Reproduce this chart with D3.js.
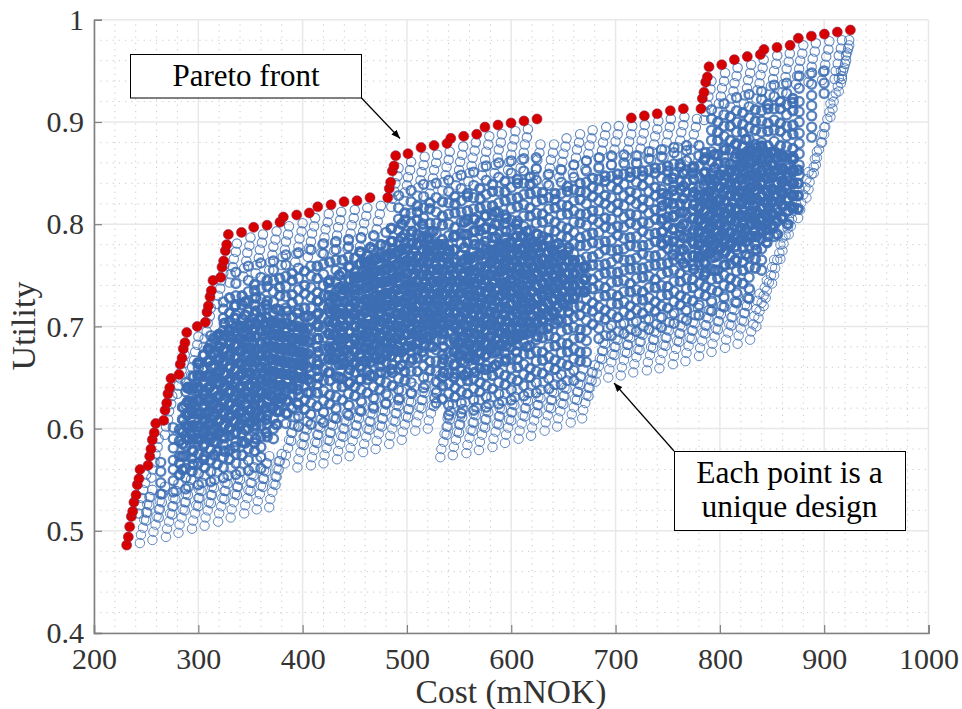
<!DOCTYPE html>
<html>
<head>
<meta charset="utf-8">
<script src="https://cdn.jsdelivr.net/npm/d3@7"></script>
<style>
  html, body { margin: 0; padding: 0; background: #fff; }
  svg { display: block; }
  text { font-family: "Liberation Serif", serif; }
</style>
</head>
<body>
<div id="chart"></div>
<script>
const xTicks = [200, 300, 400, 500, 600, 700, 800, 900, 1000];
const yTicks = [0.4, 0.5, 0.6, 0.7, 0.8, 0.9, 1];
const yTickLabels = ["0.4", "0.5", "0.6", "0.7", "0.8", "0.9", "1"];
const xMinor = [220, 240, 260, 280, 320, 340, 360, 380, 420, 440, 460, 480, 520, 540, 560, 580, 620, 640, 660, 680, 720, 740, 760, 780, 820, 840, 860, 880, 920, 940, 960, 980];
const yMinor = [0.42, 0.44, 0.46, 0.48, 0.52, 0.54, 0.56, 0.58, 0.62, 0.64, 0.66, 0.68, 0.72, 0.74, 0.76, 0.78, 0.82, 0.84, 0.86, 0.88, 0.92, 0.94, 0.96, 0.98];

// Pareto front, read point by point
const paretoCost = [231.3,232.9,234.2,235.8,237.1,238.3,240.3,241.5,243.1,244.1,251.8,253.4,254.6,255.9,257.8,259.2,266.8,268.1,269.7,270.9,272.6,273.8,281.5,282.7,284.4,285.6,287.2,288.9,299,306.7,308.3,309.6,311.2,312.5,314.1,321.5,322.7,324.3,325.9,327.2,328.8,341.4,353.1,365.9,378.3,381.5,394.3,406.4,414.5,427.2,439.7,452.1,464.6,481.6,483.1,484.4,486,487.6,489.2,501,513.5,526,538.4,542,554.4,566.9,574.8,587.3,599.8,612.2,624.7,715.1,727.6,739.9,752.5,765,781.9,783.2,784.8,786.4,788,789.6,801.8,813.9,826.3,838.8,842.3,854.8,867.3,875.2,887.7,900.2,912.6,925.1];
const paretoUtility = [.486,.494,.504,.514,.519,.528,.535,.545,.551,.56,.564,.573,.58,.589,.596,.605,.608,.618,.625,.634,.64,.649,.653,.663,.669,.678,.684,.694,.7,.704,.714,.72,.729,.735,.745,.748,.758,.764,.774,.78,.79,.792,.797,.799,.802,.807,.809,.811,.817,.819,.822,.823,.826,.826,.835,.841,.852,.857,.867,.869,.875,.877,.879,.884,.886,.888,.895,.897,.899,.901,.903,.904,.906,.908,.911,.913,.913,.923,.929,.939,.944,.954,.956,.961,.964,.966,.971,.973,.975,.982,.984,.986,.988,.99];

// Design cloud. Utility in thousandths.
// The real cloud has far more points than can be read, so the inner strands are thinned
// and drawn with heavier rings to give the same density.

// leaning strands along the lower edge
const lowerCost = [
[244,245,247,248,250,251,253],[256,257,259,260,262,263,265],[269,270,272,273,275,276,278],[281,282,284,285,287,288,290],[294,295,297,298,300,301,303],[306,307,309,310,312,313,315],[319,320,322,323,325,326,328],[331,332,334,335,337,338,340],[344,345,347,348,350,351,353],[356,357,359,360,362,363,365],[368,369,371,372,374,375,377],
[383,384,386,387,389,390,392],[395,396,398,399,401,402,404],[408,409,411,412,414,415,417],[420,421,423,424,426,427,429],[433,434,436,437,439,440,442],[445,446,448,449,451,452,454],[458,459,461,462,464,465,467],[470,471,473,474,476,477,479],[483,484,486,487,489,490,492],[495,496,498,499,501,502,504],[508,509,511,512,514,515,517],[520,521,523,524,526,527,529],
[532,533,535,536,538,539,541],[544,545,547,548,550,551,553],[557,558,560,561,563,564,566],[569,570,572,573,575,576,578],[582,583,585,586,588,589,591],[594,595,597,598,600,601,603],[607,608,610,611,613,614,616],[619,620,622,623,625,626,628],[632,633,635,636,638,639,641],[644,645,647,648,650,651,653],[657,658,660,661,663,664,666],[668,669,671,672,674,675,677],
[681,682,684,685,687,688,690],[693,694,696,697,699,700,702],[705,706,708,709,711,712,714],[717,718,720,721,723,724,726],[730,731,733,734,736,737,739],[742,743,745,746,748,749,751],[755,756,758,759,761,762,764],[767,768,770,771,773,774,776],[780,781,783,784,786,787,789],[792,793,795,796,798,799,801],[805,806,808,809,811,812,814],[817,818,820,821,823,824,826],[829,830,832,833,835,836,838],
[835,837,838,840,842,843,845],[842,844,845,847,849,850,852],[850,852,853,855,857,858,860],[858,860,861,863,865,866,868],[866,868,869,871,873,874,876],[875,877,878,880,882,883,885],[883,885,886,888,890,891,893],[890,892,893,895,897,898,900],[898,900,901,903,905,906,908],[906,908,909,911,913,914,916],[914,916,917,919,921,922,924]
];
const lowerUtility = [
[488,496,503,511,518,526,533],[491,499,506,514,521,529,536],[494,502,509,517,524,532,539],[498,506,513,521,528,536,543],[502,510,517,525,532,540,547],[505,513,520,528,535,543,550],[509,517,524,532,539,547,554],[513,521,528,536,543,551,558],[517,525,532,540,547,555,562],[521,529,536,544,551,559,566],[523,531,538,546,553,561,568],
[566,574,581,589,596,604,611],[562,570,577,585,592,600,607],[564,572,579,587,594,602,609],[566,574,581,589,596,604,611],[570,578,585,593,600,608,615],[573,581,588,596,603,611,618],[577,585,592,600,607,615,622],[580,588,595,603,610,618,625],[585,593,600,608,615,623,630],[589,597,604,612,619,627,634],[598,606,613,621,628,636,643],[600,608,615,623,630,638,645],
[572,580,587,595,602,610,617],[574,582,589,597,604,612,619],[576,584,591,599,606,614,621],[579,587,594,602,609,617,624],[582,590,597,605,612,620,627],[586,594,601,609,616,624,631],[590,598,605,613,620,628,635],[593,601,608,616,623,631,638],[598,606,613,621,628,636,643],[602,610,617,625,632,640,647],[606,614,621,629,636,644,651],[610,618,625,633,640,648,655],
[646,654,661,669,676,684,691],[650,658,665,673,680,688,695],[652,660,667,675,682,690,697],[655,663,670,678,685,693,700],[657,665,672,680,687,695,702],[659,667,674,682,689,697,704],[663,671,678,686,693,701,708],[666,674,681,689,696,704,711],[671,679,686,694,701,709,716],[675,683,690,698,705,713,720],[679,687,694,702,709,717,724],[683,691,698,706,713,721,728],[687,695,702,710,717,725,732],
[700,708,715,723,730,738,745],[720,728,735,743,750,758,765],[742,750,757,765,772,780,787],[766,774,781,789,796,804,811],[790,798,805,813,820,828,835],[806,814,821,829,836,844,851],[826,834,841,849,856,864,871],[850,858,865,873,880,888,895],[880,888,895,903,910,918,925],[905,913,920,928,935,943,950],[930,938,945,953,960,968,975]
];

// second tier of strands sitting a little higher, between the first ones
const tierCost = [
[250,251,253,254,256],[262,263,265,266,268],[275,276,278,279,281],[287,288,290,291,293],[300,301,303,304,306],[312,313,315,316,318],[325,326,328,329,331],[337,338,340,341,343],[350,351,353,354,356],[362,363,365,366,368],[374,375,377,378,380],
[389,390,392,393,395],[401,402,404,405,407],[414,415,417,418,420],[426,427,429,430,432],[439,440,442,443,445],[451,452,454,455,457],[464,465,467,468,470],[476,477,479,480,482],[489,490,492,493,495],[501,502,504,505,507],[514,515,517,518,520],[526,527,529,530,532],
[538,539,541,542,544],[550,551,553,554,556],[563,564,566,567,569],[575,576,578,579,581],[588,589,591,592,594],[600,601,603,604,606],[613,614,616,617,619],[625,626,628,629,631],[638,639,641,642,644],[650,651,653,654,656],[663,664,666,667,669],[674,675,677,678,680],
[687,688,690,691,693],[699,700,702,703,705],[711,712,714,715,717],[723,724,726,727,729],[736,737,739,740,742],[748,749,751,752,754],[761,762,764,765,767],[773,774,776,777,779],[786,787,789,790,792],[798,799,801,802,804],[811,812,814,815,817],[823,824,826,827,829]
];
const tierUtility = [
[510,518,525,533,540],[513,521,528,536,543],[516,524,531,539,546],[520,528,535,543,550],[524,532,539,547,554],[527,535,542,550,557],[531,539,546,554,561],[535,543,550,558,565],[539,547,554,562,569],[543,551,558,566,573],[545,553,560,568,575],
[588,596,603,611,618],[584,592,599,607,614],[586,594,601,609,616],[588,596,603,611,618],[592,600,607,615,622],[595,603,610,618,625],[599,607,614,622,629],[602,610,617,625,632],[607,615,622,630,637],[611,619,626,634,641],[620,628,635,643,650],[622,630,637,645,652],
[594,602,609,617,624],[596,604,611,619,626],[598,606,613,621,628],[601,609,616,624,631],[604,612,619,627,634],[608,616,623,631,638],[612,620,627,635,642],[615,623,630,638,645],[620,628,635,643,650],[624,632,639,647,654],[628,636,643,651,658],[632,640,647,655,662],
[668,676,683,691,698],[672,680,687,695,702],[674,682,689,697,704],[677,685,692,700,707],[679,687,694,702,709],[681,689,696,704,711],[685,693,700,708,715],[688,696,703,711,718],[693,701,708,716,723],[697,705,712,720,727],[701,709,716,724,731],[705,713,720,728,735]
];

// strands hanging under the upper edge
const upperCost = [
[250,249,247,246,244,243],[262,261,259,258,256,255],[275,274,272,271,269,268],[287,286,284,283,281,280],[300,299,297,296,294,293],[312,311,309,308,306,305],[325,324,322,321,319,318],[337,336,334,333,331,330],[350,349,347,346,344,343],[362,361,359,358,356,355],[375,374,372,371,369,368],[387,386,384,383,381,380],[400,399,397,396,394,393],[412,411,409,408,406,405],[425,424,422,421,419,418],[437,436,434,433,431,430],[450,449,447,446,444,443],[462,461,459,458,456,455],[475,474,472,471,469,468],[492,491,489,488,486,485],[504,503,501,500,498,497],[517,516,514,513,511,510],[529,528,526,525,523,522],[541,540,538,537,535,534],[554,553,551,550,548,547],[566,565,563,562,560,559],[579,578,576,575,573,572],[591,590,588,587,585,584],[604,603,601,600,598,597],[616,615,613,612,610,609],[628,627,625,624,622,621],[641,640,638,637,635,634],[653,652,650,649,647,646],[666,665,663,662,660,659],[678,677,675,674,672,671],[691,690,688,687,685,684],[703,702,700,699,697,696],[716,715,713,712,710,709],[728,727,725,724,722,721],[741,740,738,737,735,734],[753,752,750,749,747,746],[766,765,763,762,760,759],[778,777,775,774,772,771],[792,791,789,788,786,785],[805,804,802,801,799,798],[817,816,814,813,811,810],[830,829,827,826,824,823],[842,841,839,838,836,835],[855,854,852,851,849,848],[867,866,864,863,861,860],[880,879,877,876,874,873],[892,891,889,888,886,885],[905,904,902,901,899,898],[917,916,914,913,911,910],[924,923,921,920,918,917]
];
const upperUtility = [
[555,547,540,532,525,517],[590,582,575,567,560,552],[632,624,617,609,602,594],[672,664,657,649,642,634],[690,682,675,667,660,652],[718,710,703,695,688,680],[760,752,745,737,730,722],[781,773,766,758,751,743],[787,779,772,764,757,749],[790,782,775,767,760,752],[793,785,778,770,763,755],[798,790,783,775,768,760],[801,793,786,778,771,763],[806,798,791,783,776,768],[810,802,795,787,780,772],[812,804,797,789,782,774],[814,806,799,791,784,776],[816,808,801,793,786,778],[818,810,803,795,788,780],[855,847,840,832,825,817],[861,853,846,838,831,823],[866,858,851,843,836,828],[868,860,853,845,838,830],[871,863,856,848,841,833],[876,868,861,853,846,838],[880,872,865,857,850,842],[886,878,871,863,856,848],[888,880,873,865,858,850],[891,883,876,868,861,853],[893,885,878,870,863,855],[878,870,863,855,848,840],[878,870,863,855,848,840],[884,876,869,861,854,846],[888,880,873,865,858,850],[892,884,877,869,862,854],[895,887,880,872,865,857],[896,888,881,873,866,858],[896,888,881,873,866,858],[897,889,882,874,867,859],[901,893,886,878,871,863],[903,895,888,880,873,865],[905,897,890,882,875,867],[903,895,888,880,873,865],[940,932,925,917,910,902],[948,940,933,925,918,910],[953,945,938,930,923,915],[956,948,941,933,926,918],[961,953,946,938,931,923],[965,957,950,942,935,927],[967,959,952,944,937,929],[975,967,960,952,945,937],[977,969,962,954,947,939],[979,971,964,956,949,941],[980,972,965,957,950,942],[980,972,965,957,950,942]
];

const midCost = [264,276,288,300,312,324,336,348,360,372,384,396,408,420,432,444,456,468,480,492,504,516,528,540,552,564,576,588,600,612,624,636,648,660,672,684,696,708,720,732,744,756,768,780,792,804,816,828,840,852,864,876,888,900];
const midUtility = [
[536,547,558,567],
[538,549,560,569,581,590,601],
[541,552,561,573,583,592,604,614,623,636,645],
[545,556,566,575,587,597,606,618,628,637,649,659],
[548,558,569,579,590,599,611,621,630,642,652,661,673,683,691],
[552,562,572,584,593,603,615,624,634,646,655,666,677,687,696,708,717,724],
[555,566,575,587,597,606,618,628,637,649,658,669,680,690,699,711,721,730,742,753],
[559,569,580,590,600,611,621,631,642,652,662,672,683,693,703,714,724,734,745,759],
[561,572,582,592,603,613,623,634,644,654,665,675,685,696,706,716,727,737,748,762],
[590,600,610,621,631,641,652,662,672,683,693,703,714,724,734,745,755,764],
[605,615,626,636,646,656,667,677,687,698,708,718,729,739,749,760,770],
[602,612,623,633,643,654,664,674,685,695,705,716,726,736,747,757,772],
[604,614,625,635,645,656,666,676,687,697,707,718,728,738,749,759,775],
[606,616,627,637,647,658,668,678,689,699,709,720,730,740,751,761,771,781],
[610,620,631,641,651,662,672,682,693,703,713,724,734,744,755,765,775,783],
[613,623,634,644,654,665,675,685,696,706,716,727,737,747,758,768,778,785],
[617,627,638,648,658,669,679,689,700,710,720,731,741,751,762,772,787],
[620,630,641,651,661,672,682,692,703,713,723,734,744,754,765,775,789],
[624,634,645,655,665,676,686,696,707,717,727,738,748,758,769,779,792],
[628,638,649,659,669,680,690,700,711,721,731,742,752,762,773,783,794,805,816,828],
[635,645,656,666,676,687,697,707,718,728,738,749,759,769,780,790,801,811,822,833],
[640,650,661,671,681,692,702,712,723,733,743,754,764,774,785,795,806,816,827,839],
[625,635,646,656,666,677,687,697,708,718,728,739,749,759,770,780,791,801,812,826,840],
[613,623,634,644,654,665,675,685,696,706,716,727,737,747,758,768,779,789,800,810,821,832,843],
[615,625,636,646,656,667,677,687,698,708,718,729,739,749,760,770,781,791,802,812,823,835,848],
[618,628,639,649,659,670,680,690,701,711,721,732,742,752,763,773,784,794,805,815,826,838,851],
[621,631,642,652,662,673,683,693,704,714,724,735,745,755,766,776,787,797,808,818,829,843,857],
[624,634,645,655,665,676,686,696,707,717,727,738,748,758,769,779,790,800,811,821,832,846,860],
[628,638,649,659,669,680,690,700,711,721,731,742,752,762,773,783,794,804,815,825,836,850,862],
[632,642,653,663,673,684,694,704,715,725,735,746,756,766,777,787,798,808,819,829,840,852,864],
[635,645,656,666,676,687,697,707,718,728,738,749,759,769,780,790,801,811,822,832,843,854,865],
[639,649,660,670,680,691,701,711,722,732,742,753,763,773,784,794,805,815,826,838,849],
[643,653,664,674,684,695,705,715,726,736,746,757,767,777,788,798,809,819,830,841,853],
[647,657,668,678,688,699,709,719,730,740,750,761,771,781,792,802,813,823,834,846,858],
[665,675,686,696,706,717,727,737,748,758,768,779,789,799,810,820,831,841,852,862],
[688,698,709,719,729,740,750,760,771,781,792,802,813,823,834,844,855,865],
[691,701,712,722,732,743,753,763,774,784,795,805,816,826,837,847,858,867],
[693,703,714,724,734,745,755,765,776,786,797,807,818,828,839,849,860,868],
[695,705,716,726,736,747,757,767,778,788,799,809,820,830,841,851,860,867],
[697,707,718,728,738,749,759,769,780,790,801,811,822,832,843,853,864,871],
[699,709,720,730,740,751,761,771,782,792,803,813,824,834,845,855,866,873],
[703,713,724,734,744,755,765,775,786,796,807,817,828,838,849,859,870,875],
[706,716,727,737,747,758,768,778,789,799,810,820,831,841,852,862,872,877],
[711,721,732,742,752,763,773,783,794,804,815,825,836,846,857,867,877],
[715,725,736,746,756,767,777,787,798,808,819,829,840,850,861,871,882,892,903,912],
[719,729,740,750,760,771,781,791,802,812,823,833,844,854,865,875,886,896,907,918],
[723,733,744,754,764,775,785,795,806,816,827,837,848,858,869,879,890,900,911,924],
[727,737,748,758,768,779,789,799,810,820,831,841,852,862,873,883,894,904,915,927],
[755,765,776,786,796,807,817,827,838,848,859,869,880,890,901,911,922,930],
[788,798,809,819,829,840,850,860,871,881,892,902,913,925,936],
[824,834,845,855,865,876,886,896,907,917,928,938],
[848,858,869,879,889,900,910,920,933,945],
[885,895,906,916,926,937,948],
[928,938,950]
];

// staggered columns between the ones above, inside the cloud
const innerCost = [282,294,306,318,330,342,354,366,378,390,402,414,426,438,450,462,474,486,498,510,522,534,546,558,570,582,594,606,618,630,642,654,666,678,690,702,714,726,738,750,762,774,786,798,810,822,834,846,858,870];
const innerUtility = [
[555,566,573,588,599],
[558,571,579,593,602,616,625,638],
[562,573,585,592,606,615,629,637,651],
[565,578,586,600,608,622,631,645,653,667,676,690],
[570,579,593,601,615,624,637,646,660,668,682,691,705,713,728],
[574,587,595,609,618,631,640,654,662,676,685,699,707,721,730],
[578,586,600,609,622,631,645,653,667,676,690,698,712,721,735,741],
[592,604,613,627,635,649,658,672,680,694,703,717,725,739,745],
[617,626,640,648,662,671,685,693,707,716,730,738,747],
[620,633,641,655,664,678,686,700,709,723,731,745,752],
[619,628,642,650,664,673,687,695,709,718,732,740,754],
[622,635,643,657,666,680,688,702,711,725,733,747,759],
[624,633,647,655,669,678,692,700,714,723,737,745,763],
[628,641,649,663,672,686,694,708,717,731,739,753,765],
[632,641,655,663,677,686,700,708,722,731,745,753,767],
[635,648,656,670,679,693,701,715,724,738,746,760,769],
[638,647,661,669,683,692,706,714,728,737,751,759,771],
[642,655,663,677,686,700,708,722,731,745,753,767,776,783],
[647,656,670,678,692,701,715,723,737,746,760,768,782,790,804,811],
[656,669,677,691,700,714,722,736,745,759,767,781,790,804,812,818],
[657,666,680,688,702,711,725,733,747,756,770,778,792,801,815,821],
[629,642,650,664,673,687,695,709,718,732,740,754,763,777,785,799,808,822],
[631,640,654,662,676,685,699,707,721,730,744,752,766,775,789,797,811,820,827],
[634,647,655,669,678,692,700,714,723,737,745,759,768,782,790,804,813,827,830],
[636,645,659,667,681,690,704,712,726,735,749,757,771,780,794,802,816,825,835],
[639,652,660,674,683,697,705,719,728,742,750,764,773,787,795,809,818,832,839],
[643,652,666,674,688,697,711,719,733,742,756,764,778,787,801,809,823,832,842],
[647,660,668,682,691,705,713,727,736,750,758,772,781,795,803,817,826,840,844],
[650,659,673,681,695,704,718,726,740,749,763,771,785,794,808,816,830,839,846],
[654,667,675,689,698,712,720,734,743,757,765,779,788,802,810,824,831],
[658,667,681,689,703,712,726,734,748,757,771,779,793,802,816,824,830],
[662,675,683,697,706,720,728,742,751,765,773,787,796,810,818,832,837],
[666,675,689,697,711,720,734,742,756,765,779,787,801,810,824,832,840],
[702,715,723,737,746,760,768,782,791,805,813,827,836,845],
[707,716,730,738,752,761,775,783,797,806,820,828,842,847],
[709,722,730,744,753,767,775,789,798,812,820,834,843,849],
[711,720,734,742,756,765,779,787,801,810,824,832,846,851],
[713,726,734,748,757,771,779,793,802,816,824,838,847,852],
[715,724,738,746,760,769,783,791,805,814,828,836,850,855],
[718,731,739,753,762,776,784,798,807,821,829,843,852,857],
[721,730,744,752,766,775,789,797,811,820,834,842,856,859],
[725,738,746,760,769,783,791,805,814,828,836,850,855],
[730,739,753,761,775,784,798,806,820,829,843,851,865,870],
[734,747,755,769,778,792,800,814,823,837,845,859,868,882,890,900],
[738,747,761,769,783,792,806,814,828,837,851,859,873,882,896,905],
[742,755,763,777,786,800,808,822,831,845,853,867,876,890,898,909],
[757,766,780,788,802,811,825,833,847,856,870,878,892,901,912],
[788,801,809,823,832,846,854,868,877,891,899,913,917],
[823,832,846,854,868,877,891,899,913,920],
[853,866,874,888,897,911,919,923]
];

// the solid blue middles of the four lobes
const coreCost = [290,300,310,320,330,340,350,360,370,380,390,400,430,440,450,460,470,480,490,500,510,520,530,540,550,560,570,580,590,600,610,620,630,640,650,660,670,780,790,800,810,820,830,840,850,860,870];
const coreUtility = [
[590,602,614,626,640],[590,602,615,628,640,652,664],[592,604,616,628,640,652,666,678],[596,608,620,632,644,656,668,680,692],[600,612,624,636,648,660,672,684,696],[604,616,628,640,652,664,676,688,700],[606,618,630,642,654,666,678,690,702],[612,624,636,648,660,672,684,696,708],[620,632,644,656,668,680,692,704],[630,642,654,666,678,690,702],[640,652,664,676,688,700],[650,662,674,686,698],
[668,680,692,704,716,728],[664,676,688,700,712,724,736],[664,676,688,700,712,724,736,748],[666,678,690,702,714,726,738,750,762],[670,682,694,706,718,730,742,754,766],[672,684,696,708,720,732,744,756,768],[676,688,700,712,724,736,748,760,772],[680,692,704,716,728,740,752,764,776],[684,696,708,720,732,744,756,768,780],[690,702,714,726,738,750,762,774,786],[696,708,720,732,744,756,768,780],[702,714,726,738,750,762,774],
[672,684,696,708,720,732,744,756],[670,682,694,706,718,730,742,754,766],[674,686,698,710,722,734,746,758,770],[678,690,702,714,726,738,750,762,774],[682,694,706,718,730,742,754,766,778],[686,698,710,722,734,746,758,770,782],[692,704,716,728,740,752,764,776,788],[698,710,722,734,746,758,770,782],[706,718,730,742,754,766,778],[714,726,738,750,762,774],[722,734,746,758,770],[728,740,752,764],[734,746,758],
[768,780,792,804,816,828],[772,784,796,808,820,832,844],[776,788,800,812,824,836,848],[780,792,804,816,828,840,852],[784,796,808,820,832,844,856,868],[788,800,812,824,836,848,860,872],[792,804,816,828,840,852,864,876],[798,810,822,834,846,858,870],[806,818,830,842,854,866],[816,828,840,852,864],[826,838,850,862]
];

const halfCost = [285,295,305,315,325,335,345,355,365,375,385,395,405,415,425,435,445,455,465,475,485,495,505,515,525,535,545,555,565,575,585,595,605,615,625,635,645,655,745,755,765,775,785,795,805,815,825,835,845,855,865,875];
const halfUtility = [
[560,573,585,597,609,621],[565,578,590,603,615,627,640,651],[570,583,595,608,620,633,645,658,672],[574,587,599,612,624,637,649,662,674,688],[578,591,603,616,628,641,653,666,678,691,703],[582,595,607,620,632,645,657,670,682,695,708,720],[586,599,611,624,636,649,661,674,686,699,711,724],[590,603,615,628,640,653,665,678,690,703,715,728],[596,609,621,634,646,659,671,684,696,709,721],[604,617,629,642,654,667,679,692,704,717],[615,628,640,653,665,678,690,703,715],[625,638,650,663,675,688,700,713],[635,648,660,673,685,698,710],[650,663,675,688,700,713,725],
[655,668,680,693,705,718,730,743],[650,663,675,688,700,713,725,738,750],[645,658,670,683,695,708,720,733,745,758],[648,661,673,686,698,711,723,736,748,761,773],[652,665,677,690,702,715,727,740,752,765,777],[655,668,680,693,705,718,730,743,755,768,780],[658,671,683,696,708,721,733,746,758,771,783,796],[662,675,687,700,712,725,737,750,762,775,787,800],[668,681,693,706,718,731,743,756,768,781,793],[675,688,700,713,725,738,750,763,775,788,800],[680,693,705,718,730,743,755,768,780,793],
[655,668,680,693,705,718,730,743,755,768,780],[650,663,675,688,700,713,725,738,750,763,775,788],[652,665,677,690,702,715,727,740,752,765,777,790,802],[655,668,680,693,705,718,730,743,755,768,780,793,805],[658,671,683,696,708,721,733,746,758,771,783,796,808],[662,675,687,700,712,725,737,750,762,775,787,800,812],[668,681,693,706,718,731,743,756,768,781,793,806],[675,688,700,713,725,738,750,763,775,788,800],[680,693,705,718,730,743,755,768,780,793],[690,703,715,728,740,753,765,778,790],[698,711,723,736,748,761,773,786],[706,719,731,744,756,769,781],[714,727,739,752,764,777],
[780,793,805,818,830],[770,783,795,808,820,833,845],[762,775,787,800,812,825,837,850],[756,769,781,794,806,819,831,844,856],[750,763,775,788,800,813,825,838,850,863],[755,768,780,793,805,818,830,843,855,868],[760,773,785,798,810,823,835,848,860,873],[765,778,790,803,815,828,840,853,865,878],[770,783,795,808,820,833,845,858,870,883],[775,788,800,813,825,838,850,863,875],[782,795,807,820,832,845,857,870],[790,803,815,828,840,853,865],[800,813,825,838,850],[815,828,840,853]
];

const margin = { top: 19.8, right: 33.5, bottom: 76, left: 94 };
const width = 962;
const height = 709;

const svg = d3.select("#chart").append("svg")
  .attr("width", width)
  .attr("height", height);

const x = d3.scaleLinear()
  .domain([200, 1000])
  .range([margin.left, width - margin.right]);

const y = d3.scaleLinear()
  .domain([0.4, 1])
  .range([height - margin.bottom, margin.top]);

// minor grid
svg.append("g")
  .selectAll("line")
  .data(xMinor)
  .join("line")
  .attr("x1", d => x(d)).attr("x2", d => x(d))
  .attr("y1", y(0.4)).attr("y2", y(1))
  .attr("stroke", "#c9c9c9").attr("stroke-dasharray", "1.2 5");

svg.append("g")
  .selectAll("line")
  .data(yMinor)
  .join("line")
  .attr("x1", x(200)).attr("x2", x(1000))
  .attr("y1", d => y(d)).attr("y2", d => y(d))
  .attr("stroke", "#c9c9c9").attr("stroke-dasharray", "1.2 5");

// major grid
svg.append("g")
  .selectAll("line")
  .data(xTicks)
  .join("line")
  .attr("x1", d => x(d)).attr("x2", d => x(d))
  .attr("y1", y(0.4)).attr("y2", y(1))
  .attr("stroke", "#e8e8e8").attr("stroke-width", 1.5);

svg.append("g")
  .selectAll("line")
  .data(yTicks)
  .join("line")
  .attr("x1", x(200)).attr("x2", x(1000))
  .attr("y1", d => y(d)).attr("y2", d => y(d))
  .attr("stroke", "#e8e8e8").attr("stroke-width", 1.5);

// design cloud
function drawRings(points, strokeWidth, radius, opacity) {
  svg.append("g")
    .selectAll("circle")
    .data(points)
    .join("circle")
    .attr("cx", d => x(d[0]))
    .attr("cy", d => y(d[1]))
    .attr("r", radius)
    .attr("fill", "none")
    .attr("stroke", "#3c6db3")
    .attr("stroke-width", strokeWidth)
    .attr("stroke-opacity", opacity);
}

// one cost per column
function columnPoints(costs, utilities) {
  return costs.flatMap((c, i) => utilities[i].map(u => [c, u / 1000]));
}

// one cost per point of a strand
function strandPoints(costs, utilities) {
  return costs.flatMap((row, i) => row.map((c, j) => [c, utilities[i][j] / 1000]));
}

drawRings(columnPoints(midCost, midUtility), 2.4, 4.5, 0.85);
drawRings(columnPoints(innerCost, innerUtility), 3, 4.3, 0.9);
drawRings(columnPoints(halfCost, halfUtility), 3.4, 4.2, 0.95);
drawRings(columnPoints(coreCost, coreUtility), 4.4, 4, 1);
drawRings(strandPoints(tierCost, tierUtility), 1.2, 4.7, 0.8);
drawRings(strandPoints(lowerCost, lowerUtility), 1, 4.7, 0.8);
drawRings(strandPoints(upperCost, upperUtility), 1.1, 4.7, 0.8);

// pareto front
svg.append("g")
  .selectAll("circle")
  .data(paretoCost)
  .join("circle")
  .attr("cx", d => x(d))
  .attr("cy", (d, i) => y(paretoUtility[i]))
  .attr("r", 5)
  .attr("fill", "#d70000")
  .attr("stroke", "#8a2c50")
  .attr("stroke-width", 0.6);

// axes
const xAxis = svg.append("g")
  .attr("transform", `translate(0,${y(0.4)})`)
  .call(d3.axisBottom(x).tickValues(xTicks).tickSize(-8).tickPadding(15).tickFormat(d3.format("d")));

const yAxis = svg.append("g")
  .attr("transform", `translate(${x(200)},0)`)
  .call(d3.axisLeft(y).tickValues(yTicks).tickSize(-8).tickPadding(10).tickFormat((d, i) => yTickLabels[i]));

[xAxis, yAxis].forEach(axis => {
  axis.select(".domain").attr("stroke", "#808080").attr("stroke-width", 1.6);
  axis.selectAll(".tick line").attr("stroke", "#808080").attr("stroke-width", 1.2);
  axis.selectAll("text").attr("fill", "#333").style("font-size", "30px").style("font-family", '"Liberation Serif", serif');
});

// axis labels
svg.append("text")
  .attr("x", 511)
  .attr("y", 703)
  .style("text-anchor", "middle")
  .style("font-size", "33.5px")
  .attr("fill", "#333")
  .text("Cost (mNOK)");

svg.append("text")
  .attr("transform", "translate(35,326) rotate(-90)")
  .style("text-anchor", "middle")
  .style("font-size", "34px")
  .attr("fill", "#333")
  .text("Utility");

// annotations
svg.append("defs").append("marker")
  .attr("id", "head")
  .attr("viewBox", "0 0 10 8")
  .attr("refX", 10).attr("refY", 4)
  .attr("markerWidth", 9).attr("markerHeight", 7)
  .attr("markerUnits", "userSpaceOnUse")
  .attr("orient", "auto")
  .append("path")
  .attr("d", "M0,0L10,4L0,8Z")
  .attr("fill", "#000");

svg.append("line")
  .attr("x1", 361.5).attr("y1", 98).attr("x2", 400).attr("y2", 138.5)
  .attr("stroke", "#000").attr("stroke-width", 1.2).attr("marker-end", "url(#head)");

svg.append("line")
  .attr("x1", 674).attr("y1", 451).attr("x2", 614).attr("y2", 383)
  .attr("stroke", "#000").attr("stroke-width", 1.2).attr("marker-end", "url(#head)");

svg.append("rect")
  .attr("x", 130.5).attr("y", 54.5).attr("width", 231).attr("height", 43.5)
  .attr("fill", "#fff").attr("stroke", "#000").attr("stroke-width", 1);

svg.append("text")
  .attr("x", 246).attr("y", 86)
  .style("text-anchor", "middle").style("font-size", "31px")
  .text("Pareto front");

svg.append("rect")
  .attr("x", 674.5).attr("y", 451.5).attr("width", 231).attr("height", 79)
  .attr("fill", "#fff").attr("stroke", "#000").attr("stroke-width", 1);

svg.append("text")
  .attr("x", 789.5).attr("y", 483)
  .style("text-anchor", "middle").style("font-size", "31.5px")
  .text("Each point is a");

svg.append("text")
  .attr("x", 789.5).attr("y", 517)
  .style("text-anchor", "middle").style("font-size", "31.5px")
  .text("unique design");
</script>
</body>
</html>
